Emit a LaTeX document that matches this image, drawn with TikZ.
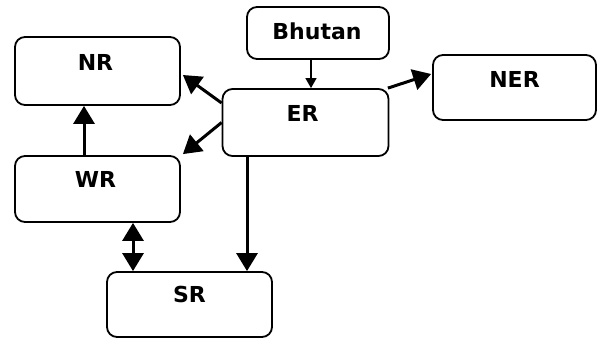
\documentclass[tikz,border=0pt]{standalone}
\usepackage{fontspec}
\setmainfont{DejaVu Sans}
\usetikzlibrary{arrows.meta}
\begin{document}
\begin{tikzpicture}[x=1pt,y=-1pt,
  region/.style={draw=black, line width=1.8pt, rounded corners=10pt,
    inner sep=0pt, minimum width=#1},
  region/.default=165pt,
  lbl/.style={anchor=base, inner sep=0pt, font=\bfseries\fontsize{22}{26}\selectfont},
  bigarrow/.style={line width=3pt, -{Triangle[length=18pt,width=21pt]}},
  bothways/.style={line width=3pt, {Triangle[length=18pt,width=21pt]}-{Triangle[length=18pt,width=21pt]}},
  thinarrow/.style={line width=1.2pt, -{Triangle[length=10pt,width=11pt]}}]
\useasboundingbox (0,0) rectangle (597,340);

% regional grid boxes
\node[region, minimum height=68pt] (nr) at (97.5,71) {};
\node[region=142pt, minimum height=52pt] (bhutan) at (318,33) {};
\node[region=166pt, minimum height=67pt] (er) at (305.5,122.5) {};
\node[region=163pt, minimum height=65pt] (ner) at (514.5,87.5) {};
\node[region, minimum height=66pt] (wr) at (97.5,189) {};
\node[region, minimum height=65pt] (sr) at (189.5,304.5) {};

% box titles
\node[lbl] (nrt) at ([xshift=-2pt,yshift=-34pt]nr.north) {NR};
\node[lbl] (bhutant) at ([xshift=-1pt,yshift=-33pt]bhutan.north) {Bhutan};
\node[lbl] (ert) at ([xshift=-3pt,yshift=-33pt]er.north) {ER};
\node[lbl] (nert) at ([yshift=-33pt]ner.north) {NER};
\node[lbl] (wrt) at ([xshift=-2pt,yshift=-32pt]wr.north) {WR};
\node[lbl] (srt) at ([yshift=-31pt]sr.north) {SR};

% power flows
\draw[thinarrow] ([xshift=-7pt]bhutan.south) -- ([xshift=-7pt]bhutan.south |- er.north);
\draw[bigarrow] ([yshift=19.5pt]er.west) -- ([xshift=2pt,yshift=-4pt]nr.east);
\draw[bigarrow] (er.west) -- ([xshift=2pt,yshift=1pt]wr.north east);
\draw[bigarrow] ([xshift=-13.5pt]wr.north) -- ([xshift=-13.5pt]nr.south);
\draw[bigarrow] ([xshift=-58.5pt]er.south) -- ([xshift=-58.5pt]er.south |- sr.north);
\draw[bothways] ([xshift=35.5pt]wr.south) -- ([xshift=35.5pt]wr.south |- sr.north);
\draw[bigarrow] ([xshift=-1.5pt]er.north east) -- ([xshift=-1pt,yshift=13.5pt]ner.west);
\end{tikzpicture}
\end{document}
